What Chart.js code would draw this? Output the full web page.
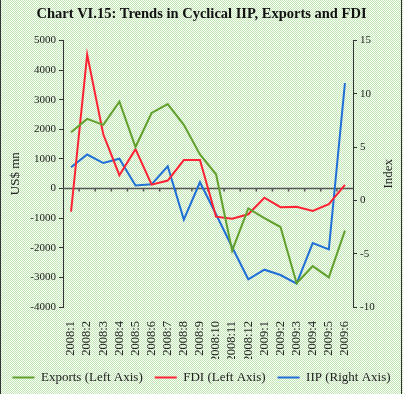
<!DOCTYPE html>
<html>
<head>
<meta charset="utf-8">
<script src="https://cdn.jsdelivr.net/npm/chart.js@4.4.0/dist/chart.umd.min.js"></script>
<style>
  body { margin: 0; background: #fff; }
  #wrap { width: 403px; height: 394px; }
</style>
</head>
<body>
<div id="wrap"><canvas id="chart" width="403" height="394"></canvas></div>
<script>
const months = [
  "2008:1", "2008:2", "2008:3", "2008:4", "2008:5", "2008:6",
  "2008:7", "2008:8", "2008:9", "2008:10", "2008:11", "2008:12",
  "2009:1", "2009:2", "2009:3", "2009:4", "2009:5", "2009:6"
];

// US$ mn, left axis
const exports_vals = [1900, 2350, 2150, 2930, 1400, 2550, 2850, 2150, 1150, 480,
  -2100, -670, -1000, -1300, -3200, -2620, -3000, -1420];
const fdi_vals = [-780, 4520, 1830, 450, 1330, 130, 270, 960, 960, -950,
  -1020, -870, -310, -630, -620, -760, -530, 120];

// index, right axis
const iip_vals = [3.1, 4.3, 3.5, 3.9, 1.4, 1.5, 3.2, -1.8, 1.7, -1.3,
  -4.4, -7.4, -6.5, -7.0, -7.8, -4.0, -4.6, 11.0];

const textColor = "#222";
const serif = "'Liberation Serif', 'DejaVu Serif', serif";

// dithered green paper + side rules
const backdrop = {
  id: "backdrop",
  beforeDraw(chart) {
    const ctx = chart.ctx;
    const tile = document.createElement("canvas");
    tile.width = 2; tile.height = 2;
    const t = tile.getContext("2d");
    t.fillStyle = "#f7fcf4"; t.fillRect(0, 0, 2, 2);
    t.fillStyle = "#c2e6b5"; t.fillRect(0, 0, 1, 1); t.fillRect(1, 1, 1, 1);
    ctx.save();
    ctx.fillStyle = ctx.createPattern(tile, "repeat");
    ctx.fillRect(0, 0, chart.width, chart.height);
    ctx.fillStyle = "#333";
    ctx.fillRect(0, 0, 1, chart.height);
    ctx.fillRect(chart.width - 2, 0, 1, chart.height);
    ctx.restore();
  }
};

// zero line with small ticks, and right axis title
const extras = {
  id: "extras",
  beforeDatasetsDraw(chart) {
    const ctx = chart.ctx;
    const x = chart.scales.x, y = chart.scales.y;
    const area = chart.chartArea;
    const y0 = y.getPixelForValue(0);
    ctx.save();
    ctx.strokeStyle = "#555";
    ctx.lineWidth = 1.5;
    ctx.beginPath();
    ctx.moveTo(area.left, y0);
    ctx.lineTo(area.right, y0);
    for (let i = 1; i < months.length; i++) {
      const bx = (x.getPixelForValue(i - 1) + x.getPixelForValue(i)) / 2;
      ctx.moveTo(bx, y0);
      ctx.lineTo(bx, y0 + 3);
    }
    ctx.stroke();
    ctx.restore();
  },
  afterDraw(chart) {
    const ctx = chart.ctx;
    const area = chart.chartArea;
    ctx.save();
    ctx.translate(area.right + 36, (area.top + area.bottom) / 2);
    ctx.rotate(-Math.PI / 2);
    ctx.fillStyle = textColor;
    ctx.font = "13px " + serif;
    ctx.textAlign = "center";
    ctx.textBaseline = "middle";
    ctx.fillText("Index", 0, 0);
    ctx.restore();
  }
};

const ctx = document.getElementById("chart");

const chart = new Chart(ctx, {
  type: "line",
  data: {
    labels: months,
    datasets: [{
      label: "Exports (Left Axis)",
      data: exports_vals,
      borderColor: "#62a02e",
      backgroundColor: "#62a02e",
      borderWidth: 2,
      pointRadius: 0,
      tension: 0,
      yAxisID: "y"
    }, {
      label: "FDI (Left Axis)",
      data: fdi_vals,
      borderColor: "#ff2233",
      backgroundColor: "#ff2233",
      borderWidth: 2,
      pointRadius: 0,
      tension: 0,
      yAxisID: "y"
    }, {
      label: "IIP (Right Axis)",
      data: iip_vals,
      borderColor: "#1f6fd6",
      backgroundColor: "#1f6fd6",
      borderWidth: 2,
      pointRadius: 0,
      tension: 0,
      yAxisID: "y1"
    }]
  },
  options: {
    responsive: false,
    animation: false,
    layout: { padding: { left: 0, right: 0, top: 0, bottom: 0 } },
    plugins: {
      tooltip: { enabled: false },
      title: {
        display: true,
        text: "Chart VI.15: Trends in Cyclical IIP, Exports and FDI",
        color: "#111",
        font: { family: serif, size: 14.5, weight: "bold" },
        padding: { top: 6, bottom: 17 }
      },
      legend: {
        display: true,
        position: "bottom",
        labels: {
          color: textColor,
          font: { family: serif, size: 13 },
          usePointStyle: true,
          pointStyle: "line",
          pointStyleWidth: 22,
          padding: 12
        }
      }
    },
    scales: {
      x: {
        offset: true,
        afterFit(scale) { scale.height = 52; },
        grid: { display: false },
        border: { display: false },
        ticks: {
          color: textColor,
          font: { family: serif, size: 12.5 },
          minRotation: 90,
          maxRotation: 90,
          autoSkip: false,
          padding: 6
        }
      },
      y: {
        position: "left",
        min: -4000,
        max: 5000,
        afterFit(scale) { scale.width = 63; },
        ticks: {
          stepSize: 1000,
          color: textColor,
          font: { family: serif, size: 11 },
          padding: 3,
          callback: (v) => String(v)
        },
        grid: {
          drawOnChartArea: false,
          tickLength: 4,
          color: "#333"
        },
        border: { display: true, color: "#333", width: 1 },
        title: {
          display: true,
          text: "US$ mn",
          color: textColor,
          font: { family: serif, size: 13 },
          padding: { top: 8, bottom: 0 }
        }
      },
      y1: {
        position: "right",
        min: -10,
        max: 15,
        afterFit(scale) { scale.width = 50; },
        ticks: {
          stepSize: 5,
          color: textColor,
          font: { family: serif, size: 11 },
          padding: 3,
          callback: (v) => String(v)
        },
        grid: {
          drawOnChartArea: false,
          tickLength: 4,
          color: "#333"
        },
        border: { display: true, color: "#333", width: 1 }
      }
    }
  },
  plugins: [backdrop, extras]
});
</script>
</body>
</html>
